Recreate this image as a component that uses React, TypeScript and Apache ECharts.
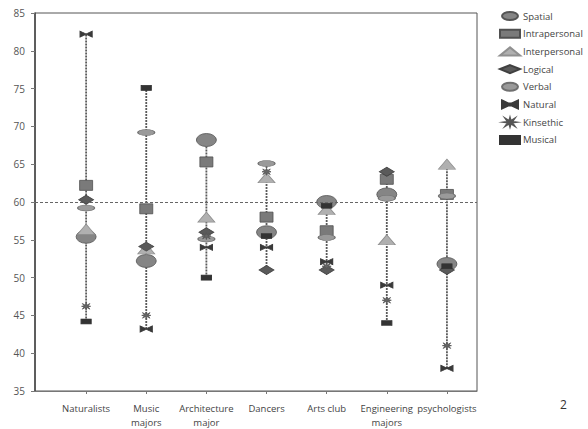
import React, { useEffect, useRef } from "react";
import * as echarts from "echarts";

const categories = [
  "Naturalists",
  "Music\nmajors",
  "Architecture\nmajor",
  "Dancers",
  "Arts club",
  "Engineering\nmajors",
  "psychologists",
];

const yTicks = { min: 35, max: 85, step: 5 };

const spatial = [55.4, 52.2, 68.2, 56, 60, 61, 51.8];
const intrapersonal = [62.2, 59.1, 65.3, 58, 56.2, 63, 61];
const interpersonal = [56.4, 53.8, 58, 63.2, 59, 55, 65];
const logical = [60.3, 54.1, 56, 51, 51, 64, 51];
const verbal = [59.2, 69.2, 55.1, 65.1, 55.3, 60.5, 60.8];
const natural = [82.2, 43.2, 54, 54, 52.1, 49, 38];
const kinsethic = [46.2, 45, 55.5, 64, 51.5, 47, 41];
const musical = [44.2, 75.1, 50, 55.5, 59.5, 44, 51.5];

const referenceLine = 60;

const FONT = "Open Sans";

const ELLIPSE = "path://M0,5A10,5 0 1,0 20,5A10,5 0 1,0 0,5Z";
const BOWTIE = "path://M0,0L5,2.3L7,2.3L12,0L12,6L7,3.7L5,3.7L0,6Z";
const STAR =
  "path://M6,0L7,3.5L11,1L8.5,4.5L12,5L8.5,5.5L11,9L7,6.5L6,10L5,6.5L1,9L3.5,5.5L0,5L3.5,4.5L1,1L5,3.5Z";

const seriesDefs = [
  { name: "Spatial", data: spatial, symbol: ELLIPSE, size: [20, 13], color: "#858585", border: "#555" },
  { name: "Intrapersonal", data: intrapersonal, symbol: "rect", size: [13, 10], color: "#7a7a7a", border: "#505050" },
  { name: "Interpersonal", data: interpersonal, symbol: "triangle", size: [17, 10], color: "#b0b0b0", border: "#909090" },
  { name: "Logical", data: logical, symbol: "diamond", size: [15, 9], color: "#5a5a5a", border: "#404040" },
  { name: "Verbal", data: verbal, symbol: ELLIPSE, size: [17, 6], color: "#9a9a9a", border: "#707070" },
  { name: "Natural", data: natural, symbol: BOWTIE, size: [12, 6], color: "#3a3a3a", border: "#3a3a3a" },
  { name: "Kinsethic", data: kinsethic, symbol: STAR, size: [9, 7], color: "#666", border: "#555" },
  { name: "Musical", data: musical, symbol: "rect", size: [10, 5], color: "#333", border: "#333" },
];

export default function App() {
  const ref = useRef<HTMLDivElement>(null);
  useEffect(() => {
    if (!ref.current) return;
    const chart = echarts.init(ref.current, undefined, { renderer: "svg" });
    const idx = categories.map((_, i) => i);
    const ranges = idx.map((i) => {
      const vals = seriesDefs.map((s) => s.data[i]);
      return [i, Math.min(...vals), Math.max(...vals)];
    });

    const option: any = {
      animation: false,
      backgroundColor: "#fff",
      textStyle: { fontFamily: FONT },
      grid: {
        left: 35,
        right: 111,
        top: 13,
        bottom: 36,
        show: true,
        borderColor: "#555",
        borderWidth: 1,
        backgroundColor: "transparent",
      },
      legend: {
        orient: "vertical",
        left: 494,
        top: 6,
        itemWidth: 20,
        itemHeight: 8,
        itemGap: 7.7,
        textStyle: { fontFamily: FONT, fontSize: 9.5, color: "#444", padding: [0, 0, 0, -2] },
        data: seriesDefs.map((s) => s.name),
      },
      xAxis: {
        type: "value",
        min: -0.85,
        max: 6.5,
        splitLine: { show: false },
        axisLine: { show: true, onZero: false, lineStyle: { color: "#777", width: 1 } },
        axisTick: {
          show: true,
          customValues: idx,
          length: 3,
          lineStyle: { color: "#777" },
        },
        axisLabel: {
          customValues: idx,
          formatter: (v: number) => categories[Math.round(v)] ?? "",
          fontFamily: FONT,
          fontSize: 9.5,
          color: "#444",
          margin: 10,
          lineHeight: 14,
        },
      },
      yAxis: {
        type: "value",
        min: yTicks.min,
        max: yTicks.max,
        interval: yTicks.step,
        splitLine: { show: false },
        axisLine: { show: true, onZero: false, lineStyle: { color: "#444", width: 1.5 } },
        axisTick: { show: true, length: 4, lineStyle: { color: "#777" } },
        axisLabel: { fontFamily: FONT, fontSize: 10, color: "#555", margin: 10 },
      },
      series: [
        {
          type: "custom",
          name: "range",
          z: 1,
          silent: true,
          encode: { x: 0, y: [1, 2] },
          data: ranges,
          renderItem: (params: any, api: any) => {
            const x = api.value(0);
            const p1 = api.coord([x, api.value(1)]);
            const p2 = api.coord([x, api.value(2)]);
            return {
              type: "line",
              shape: { x1: p1[0], y1: p1[1], x2: p2[0], y2: p2[1] },
              style: { stroke: "#5a5a5a", lineWidth: 1.8, lineDash: [2, 1] },
            };
          },
        },
        ...seriesDefs.map((s, k) => ({
          type: "scatter",
          name: s.name,
          z: 2 + k,
          symbol: s.symbol,
          symbolSize: s.size,
          itemStyle: { color: s.color, borderColor: s.border, borderWidth: 0.8, opacity: 1 },
          data: s.data.map((v, i) => [i, v]),
          markLine:
            k === 0
              ? {
                  silent: true,
                  symbol: "none",
                  label: { show: false },
                  lineStyle: { color: "#666", type: [3, 2], width: 1 },
                  data: [{ yAxis: referenceLine }],
                }
              : undefined,
        })),
      ],
      graphic: [
        {
          type: "text",
          left: 560,
          top: 398,
          style: { text: "2", fontFamily: FONT, fontSize: 12, fill: "#333" },
        },
      ],
    };
    chart.setOption(option);
    return () => chart.dispose();
  }, []);
  return (
    <div
      ref={ref}
      style={{ position: "fixed", left: 0, top: 0, width: 588, height: 429 }}
    />
  );
}
